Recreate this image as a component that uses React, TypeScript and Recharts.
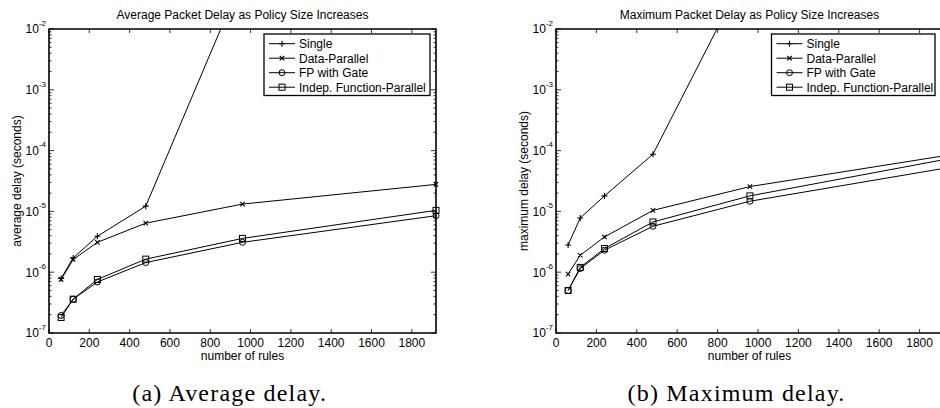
import React from 'react';
import { LineChart, Line, XAxis, YAxis, ReferenceArea } from 'recharts';

// number of rules in the policy
const rules = [60, 120, 240, 480, 960, 1920];

// (a) average delay, seconds
const avgSingle = [7.9e-7, 1.72e-6, 3.9e-6, 1.22e-5, 0.07, 2];
const avgDataParallel = [7.6e-7, 1.62e-6, 3.1e-6, 6.4e-6, 1.32e-5, 2.78e-5];
const avgFpGate = [1.94e-7, 3.6e-7, 6.9e-7, 1.44e-6, 3.1e-6, 8.5e-6];
const avgIndepFp = [1.8e-7, 3.6e-7, 7.6e-7, 1.64e-6, 3.6e-6, 1.04e-5];

// (b) maximum delay, seconds
const maxSingle = [2.8e-6, 7.8e-6, 1.8e-5, 8.7e-5, 0.115, 5];
const maxDataParallel = [9.3e-7, 1.9e-6, 3.8e-6, 1.04e-5, 2.56e-5, 8.2e-5];
const maxFpGate = [5.0e-7, 1.15e-6, 2.3e-6, 5.7e-6, 1.47e-5, 5.1e-5];
const maxIndepFp = [5.0e-7, 1.2e-6, 2.45e-6, 6.7e-6, 1.8e-5, 7.1e-5];

const xTicks = [0, 200, 400, 600, 800, 1000, 1200, 1400, 1600, 1800];
const seriesNames = ['Single', 'Data-Parallel', 'FP with Gate', 'Indep. Function-Parallel'];
const seriesKeys = ['single', 'dataParallel', 'fpGate', 'indepFp'];
const markers = ['plus', 'cross', 'circle', 'square'];

// log ticks: 1..9 x each decade, up to 1e-2
const yTicks: number[] = [];
for (let d = -7; d < -2; d++) {
  for (let k = 1; k < 10; k++) yTicks.push(k * Math.pow(10, d));
}
yTicks.push(1e-2);

const SANS = '"Liberation Sans", Arial, Helvetica, sans-serif';
const SERIF = '"Liberation Serif", "Times New Roman", serif';

const buildRows = (s: number[], dp: number[], fp: number[], ind: number[]) =>
  rules.map((r, i) => ({ rules: r, single: s[i], dataParallel: dp[i], fpGate: fp[i], indepFp: ind[i] }));

const avgData = buildRows(avgSingle, avgDataParallel, avgFpGate, avgIndepFp);
const maxData = buildRows(maxSingle, maxDataParallel, maxFpGate, maxIndepFp);

const Marker = ({ type, cx, cy }: { type: string; cx: number; cy: number }) => {
  if (type === 'plus')
    return <path d={`M${cx - 3},${cy}h6M${cx},${cy - 3}v6`} stroke="#000" strokeWidth={1.1} fill="none" />;
  if (type === 'cross')
    return <path d={`M${cx - 2.2},${cy - 2.2}l4.4,4.4M${cx - 2.2},${cy + 2.2}l4.4,-4.4`} stroke="#000" strokeWidth={1.1} fill="none" />;
  if (type === 'circle') return <circle cx={cx} cy={cy} r={3} stroke="#000" strokeWidth={1} fill="none" />;
  return <rect x={cx - 3} y={cy - 3} width={6} height={6} stroke="#000" strokeWidth={1} fill="none" />;
};

const makeDot = (type: string) => (props: any) => {
  const { cx, cy, index } = props;
  if (cx == null || cy == null) return <g key={`d-${index}`} />;
  return (
    <g key={`d-${index}`}>
      <Marker type={type} cx={cx} cy={cy} />
    </g>
  );
};

type Box = { left: number; right: number; top: number; bottom: number };

const makeYTick = (box: Box) => (props: any) => {
  const { y, payload, index } = props;
  const lg = Math.log10(payload.value);
  const exp = Math.round(lg);
  const major = Math.abs(lg - exp) < 1e-6;
  const len = major ? 5 : 2.5;
  return (
    <g key={`yt-${index}`}>
      <line x1={box.left} x2={box.left + len} y1={y} y2={y} stroke="#000" strokeWidth={0.8} />
      <line x1={box.right} x2={box.right - len} y1={y} y2={y} stroke="#000" strokeWidth={0.8} />
      {major && (
        <text x={box.left - 3} y={y + 4.3} textAnchor="end" fontFamily={SANS} fontSize={12} fill="#000">
          10
          <tspan dy={-7.5} fontSize={8}>{exp}</tspan>
        </text>
      )}
    </g>
  );
};

const makeXTick = (box: Box) => (props: any) => {
  const { x, payload, index } = props;
  return (
    <g key={`xt-${index}`}>
      <line x1={x} x2={x} y1={box.bottom} y2={box.bottom - 4} stroke="#000" strokeWidth={0.8} />
      <line x1={x} x2={x} y1={box.top} y2={box.top + 4} stroke="#000" strokeWidth={0.8} />
      <text x={x} y={box.bottom + 13.8} textAnchor="middle" fontFamily={SANS} fontSize={12} fill="#000">
        {payload.value}
      </text>
    </g>
  );
};

const DelayChart = ({ data, width, yAxisWidth, rightMargin, xMax, box }: any) => (
  <LineChart width={width} height={372} data={data} margin={{ top: 29, right: rightMargin, left: 0, bottom: 0 }}>
    <XAxis
      dataKey="rules"
      type="number"
      domain={[0, xMax]}
      ticks={xTicks}
      interval={0}
      height={39}
      axisLine={false}
      tickLine={false}
      tick={makeXTick(box)}
    />
    <YAxis
      type="number"
      scale="log"
      domain={[1e-7, 1e-2]}
      allowDataOverflow
      ticks={yTicks}
      interval={0}
      width={yAxisWidth}
      axisLine={false}
      tickLine={false}
      tick={makeYTick(box)}
    />
    <ReferenceArea x1={0} x2={xMax} y1={1e-7} y2={1e-2} stroke="#000" strokeWidth={1.6} fill="none" fillOpacity={0} />
    {seriesKeys.map((k, i) => (
      <Line
        key={k}
        dataKey={k}
        name={seriesNames[i]}
        stroke="#000"
        strokeWidth={1}
        dot={makeDot(markers[i])}
        activeDot={false}
        isAnimationActive={false}
      />
    ))}
  </LineChart>
);

const LegendBox = ({ x, y, w }: { x: number; y: number; w: number }) => (
  <g>
    <rect x={x} y={y} width={w} height={61.5} fill="#fff" stroke="#000" strokeWidth={1.3} />
    {seriesNames.map((n, i) => {
      const cy = y + 9.7 + i * 14.5;
      return (
        <g key={n}>
          <line x1={x + 5} x2={x + 31} y1={cy} y2={cy} stroke="#000" strokeWidth={1} />
          <Marker type={markers[i]} cx={x + 18} cy={cy} />
          <text x={x + 35} y={cy + 4.3} fontFamily={SANS} fontSize={12} fill="#000">
            {n}
          </text>
        </g>
      );
    })}
  </g>
);

const leftBox: Box = { left: 49, right: 436, top: 29, bottom: 333 };
const rightBox: Box = { left: 86, right: 490, top: 29, bottom: 333 };

export default function App() {
  return (
    <div style={{ position: 'absolute', left: 0, top: 0, width: 940, height: 408, overflow: 'hidden', background: '#fff' }}>
      <div style={{ position: 'absolute', left: 0, top: 0 }}>
        <DelayChart data={avgData} width={470} yAxisWidth={49} rightMargin={34} xMax={1920} box={leftBox} />
      </div>
      <div style={{ position: 'absolute', left: 470, top: 0 }}>
        <DelayChart data={maxData} width={490} yAxisWidth={86} rightMargin={0} xMax={2000} box={rightBox} />
      </div>
      <svg width={940} height={408} style={{ position: 'absolute', left: 0, top: 0, pointerEvents: 'none' }}>
        <text x={242.5} y={18.5} textAnchor="middle" fontFamily={SANS} fontSize={12} fill="#000">
          Average Packet Delay as Policy Size Increases
        </text>
        <text x={749.5} y={18.5} textAnchor="middle" fontFamily={SANS} fontSize={12} fill="#000">
          Maximum Packet Delay as Policy Size Increases
        </text>
        <text transform="translate(21,181) rotate(-90)" textAnchor="middle" fontFamily={SANS} fontSize={12} fill="#000">
          average delay (seconds)
        </text>
        <text transform="translate(528,181) rotate(-90)" textAnchor="middle" fontFamily={SANS} fontSize={12} fill="#000">
          maximum delay (seconds)
        </text>
        <text x={242.5} y={359.5} textAnchor="middle" fontFamily={SANS} fontSize={12} fill="#000">
          number of rules
        </text>
        <text x={749.5} y={359.5} textAnchor="middle" fontFamily={SANS} fontSize={12} fill="#000">
          number of rules
        </text>
        <text x={229.7} y={401} textAnchor="middle" fontFamily={SERIF} fontSize={24} letterSpacing={1.2} fill="#000">
          (a) Average delay.
        </text>
        <text x={736.5} y={401} textAnchor="middle" fontFamily={SERIF} fontSize={24} letterSpacing={1.2} fill="#000">
          (b) Maximum delay.
        </text>
        <LegendBox x={264} y={34} w={166} />
        <LegendBox x={771.5} y={34} w={163.5} />
      </svg>
    </div>
  );
}
